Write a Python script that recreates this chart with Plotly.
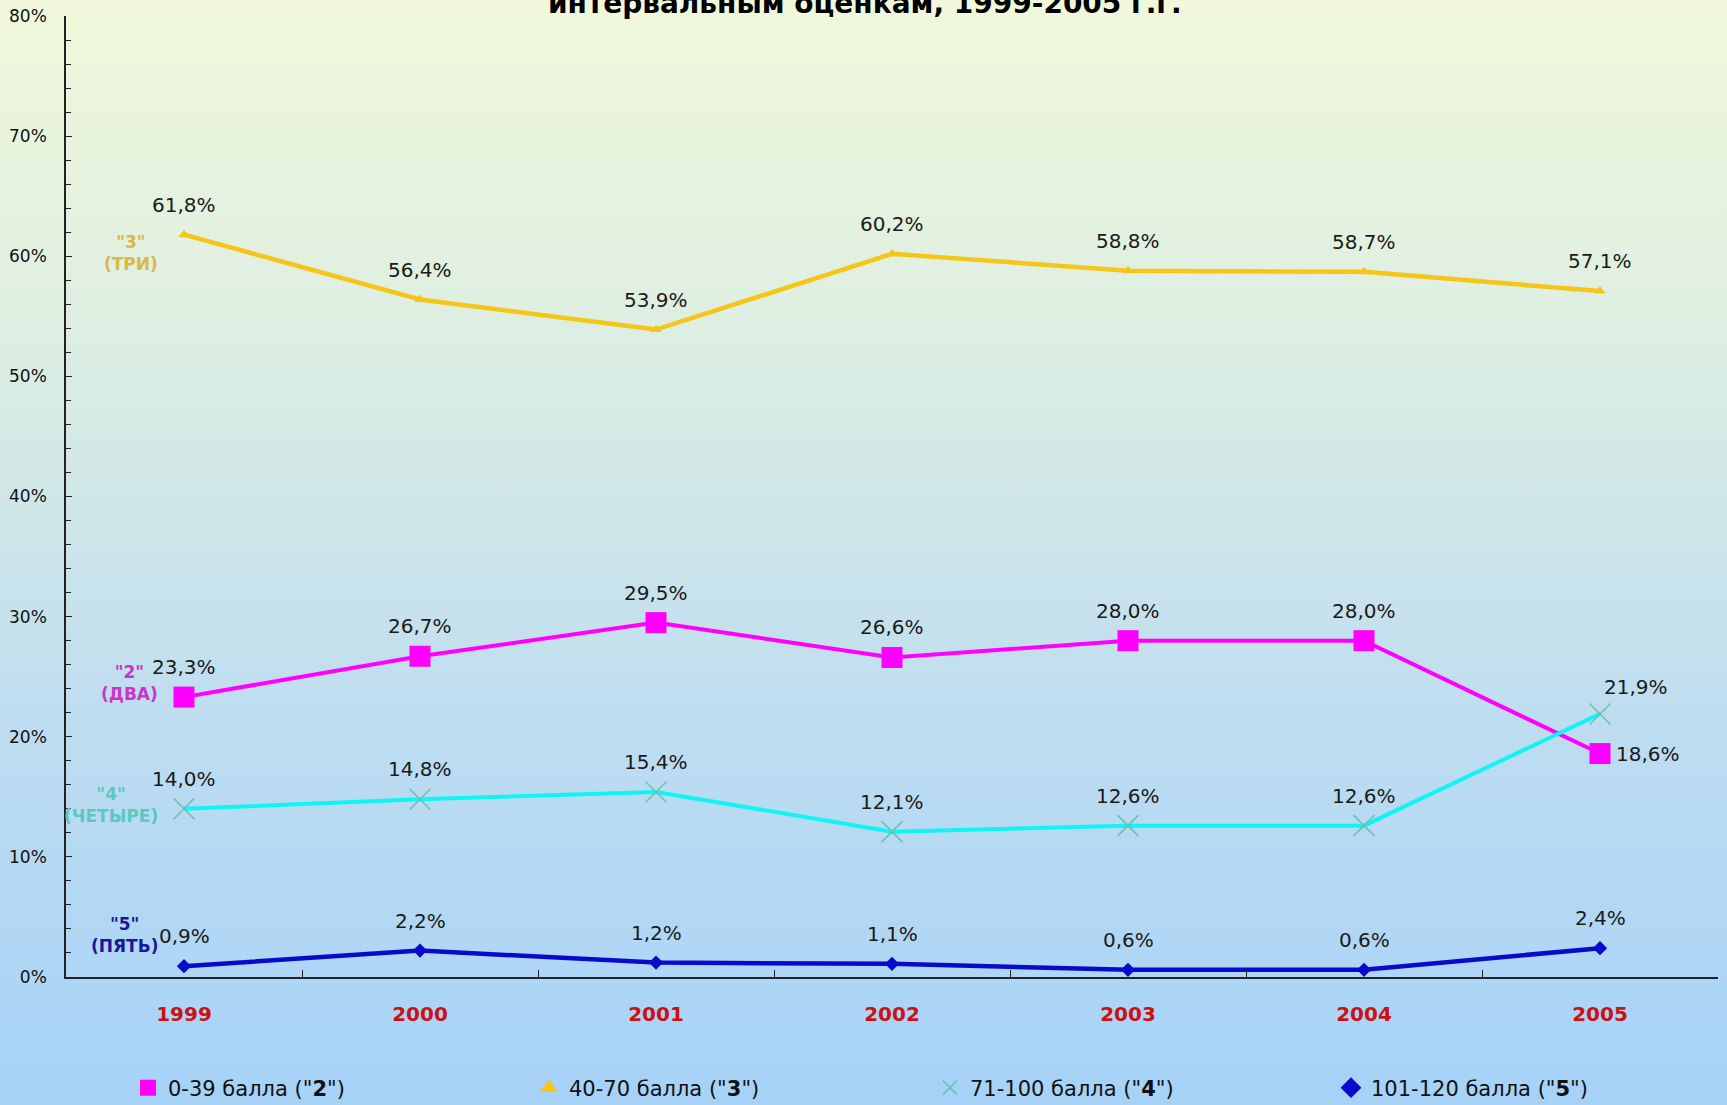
import plotly.graph_objects as go
import base64

# ---------------- data ----------------
years = ["1999", "2000", "2001", "2002", "2003", "2004", "2005"]
grade2 = [23.3, 26.7, 29.5, 26.6, 28.0, 28.0, 18.6]
grade3 = [61.8, 56.4, 53.9, 60.2, 58.8, 58.7, 57.1]
grade4 = [14.0, 14.8, 15.4, 12.1, 12.6, 12.6, 21.9]
grade5 = [0.9, 2.2, 1.2, 1.1, 0.6, 0.6, 2.4]
legend_names = ['0-39 балла ("<b>2</b>")', '40-70 балла ("<b>3</b>")',
                '71-100 балла ("<b>4</b>")', '101-120 балла ("<b>5</b>")']
side_names = ['"2"<br>(ДВА)', '"3"<br>(ТРИ)', '"4"<br>(ЧЕТЫРЕ)', '"5"<br>(ПЯТЬ)']
title_text = "интервальным оценкам, 1999-2005 г.г."

W, H = 1727, 1105
ML, MR, MT, MB = 66, 9, 16, 128
PW, PH = W - ML - MR, H - MT - MB
FONT = "DejaVu Sans"

series = [
    dict(y=grade2, name=legend_names[0], side=side_names[0], line="#FF00FF", width=4,
         symbol="square", msize=21, mcolor="#FF00FF", mline="#FF00FF", mlw=0,
         sidecolor="#CC33CC", side_dy=14),
    dict(y=grade3, name=legend_names[1], side=side_names[1], line="#F5C518", width=4.5,
         symbol="triangle-up", msize=10, mcolor="#F5C518", mline="#F5C518", mlw=0,
         sidecolor="#D9B848", side_dy=-18),
    dict(y=grade4, name=legend_names[2], side=side_names[2], line="#10F4F4", width=4,
         symbol="x-thin", msize=21, mcolor="#66C2B0", mline="#66C2B0", mlw=1.5,
         sidecolor="#5CC8C0", side_dy=4),
    dict(y=grade5, name=legend_names[3], side=side_names[3], line="#0A0ACC", width=4.5,
         symbol="diamond", msize=11, mcolor="#0A0ACC", mline="#0A0ACC", mlw=0,
         sidecolor="#1A1A99", side_dy=31),
]

fig = go.Figure()
annotations = []

# special label offsets (style only): (series, point) -> (xshift, yshift, xanchor)
label_shift = {(0, 6): (14, 0, "left"), (2, 6): (2, 27, "left")}

for si, s in enumerate(series):
    fig.add_trace(go.Scatter(
        x=years, y=s["y"], mode="lines+markers", showlegend=False,
        line=dict(color=s["line"], width=s["width"]),
        marker=dict(symbol=s["symbol"], size=s["msize"], color=s["mcolor"],
                    line=dict(color=s["mline"], width=s["mlw"])),
        cliponaxis=False, hoverinfo="skip"))
    for i, yv in enumerate(s["y"]):
        txt = f"{yv:.1f}%".replace(".", ",")
        if (si, i) in label_shift:
            dx, dy, anch = label_shift[(si, i)]
            annotations.append(dict(x=i, y=yv, xref="x", yref="y", text=txt,
                                    showarrow=False, xshift=dx, yshift=dy,
                                    xanchor=anch, yanchor="middle",
                                    font=dict(family=FONT, size=20, color="#1a1a1a")))
        else:
            annotations.append(dict(x=i, y=yv, xref="x", yref="y", text=txt,
                                    showarrow=False, yshift=30, xanchor="center",
                                    yanchor="middle",
                                    font=dict(family=FONT, size=20, color="#1a1a1a")))
    # side series name
    annotations.append(dict(x=0, y=s["y"][0], xref="x", yref="y",
                            text=f"<b>{s['side']}</b>", showarrow=False,
                            xshift=-24, yshift=s["side_dy"], xanchor="right",
                            yanchor="middle", align="center",
                            font=dict(family=FONT, size=17, color=s["sidecolor"])))

# legend-only marker entries
for s in series:
    fig.add_trace(go.Scatter(
        x=[None], y=[None], mode="markers", name=s["name"],
        marker=dict(symbol=s["symbol"], size=16 if s["symbol"] != "x-thin" else 14,
                    color=s["mcolor"], line=dict(color=s["mline"], width=s["mlw"]))))

# title (top clipped as in the reference)
annotations.append(dict(x=(865 - ML) / PW, y=(H - MB - 22) / PH, xref="paper", yref="paper",
                        text=f"<b>{title_text}</b>", showarrow=False,
                        xanchor="center", yanchor="bottom",
                        font=dict(family=FONT, size=28, color="#000000")))

# gradient background image via SVG
svg = ('<svg xmlns="http://www.w3.org/2000/svg" width="100" height="100" '
       'viewBox="0 0 100 100" preserveAspectRatio="none">'
       '<defs><linearGradient id="g" x1="0" y1="0" x2="0" y2="1">'
       '<stop offset="0" stop-color="#F1F8DA"/>'
       '<stop offset="0.3" stop-color="#DDEEE2"/>'
       '<stop offset="0.65" stop-color="#BEDDF0"/>'
       '<stop offset="1" stop-color="#A6D2F8"/>'
       '</linearGradient></defs><rect width="100" height="100" fill="url(#g)"/></svg>')
src = "data:image/svg+xml;base64," + base64.b64encode(svg.encode()).decode()

fig.update_layout(
    width=W, height=H,
    margin=dict(l=ML, r=MR, t=MT, b=MB, autoexpand=False),
    paper_bgcolor="#A6D2F8", plot_bgcolor="rgba(0,0,0,0)",
    font=dict(family=FONT, color="#111111"),
    images=[dict(source=src, xref="paper", yref="paper",
                 x=-ML / PW, y=1 + MT / PH, sizex=W / PW, sizey=H / PH,
                 xanchor="left", yanchor="top", sizing="stretch", layer="below")],
    annotations=annotations,
    showlegend=True,
    legend=dict(orientation="h", x=(128 - ML) / PW, y=-(1088 - (H - MB)) / PH,
                xanchor="left", yanchor="middle", bgcolor="rgba(0,0,0,0)",
                entrywidth=356, entrywidthmode="pixels",
                font=dict(family=FONT, size=21, color="#111111")),
    xaxis=dict(type="category", range=[-0.5, 6.5], tickson="boundaries",
               ticks="inside", ticklen=7, tickcolor="#222222",
               showline=True, linecolor="#222222", linewidth=1.5,
               showgrid=False, zeroline=False, ticklabelstandoff=18,
               tickfont=dict(family=FONT, size=20, color="#CC1111", weight="bold")),
    yaxis=dict(range=[0, 80], dtick=10, ticksuffix="%", ticks="inside", ticklen=6,
               tickcolor="#222222", showline=True, linecolor="#222222", linewidth=1.5,
               showgrid=False, zeroline=False, ticklabelstandoff=14,
               minor=dict(dtick=2, ticks="inside", ticklen=5, tickcolor="#222222"),
               tickfont=dict(family=FONT, size=17, color="#111111")),
)

fig.write_html("out.html", config={"displayModeBar": False},
               post_script="document.body.style.margin='0';document.body.style.overflow='hidden';")
